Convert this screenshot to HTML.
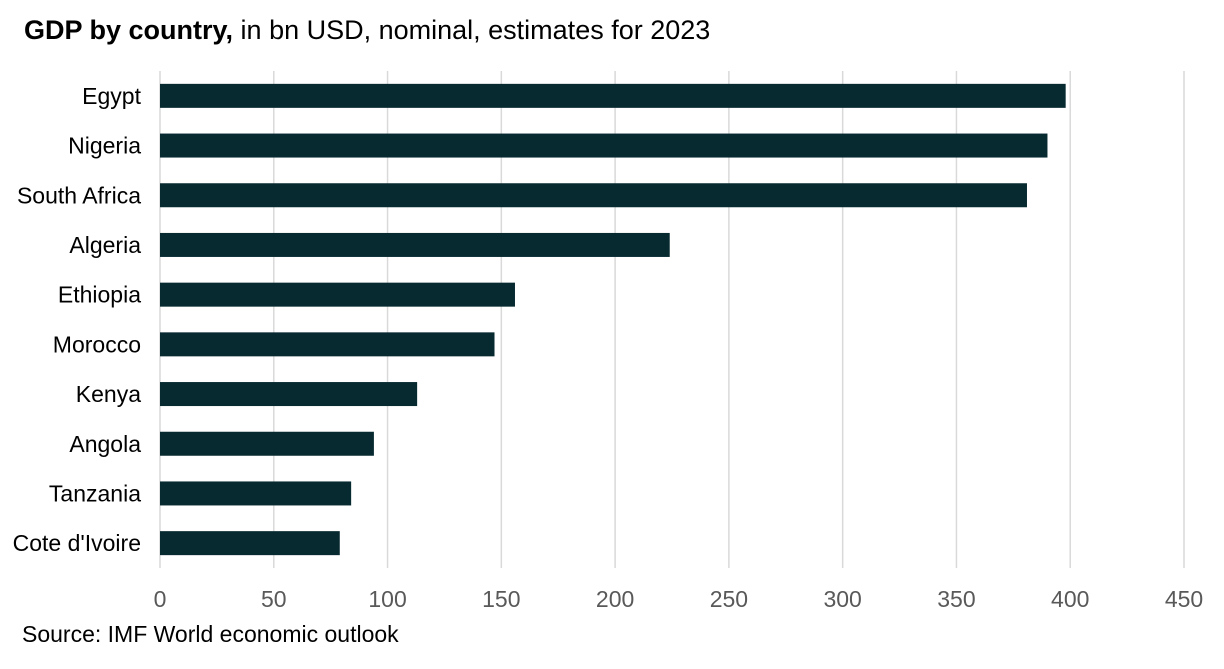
<!DOCTYPE html>
<html><head><meta charset="utf-8"><style>
body{margin:0;background:#fff;width:1224px;height:664px;overflow:hidden;font-family:"Liberation Sans",Arial,sans-serif}
</style></head><body>
<svg width="1224" height="664">
<text x="24" y="39" font-size="27" fill="#000"><tspan font-weight="bold">GDP by country,</tspan> in bn USD, nominal, estimates for 2023</text>
<g id="grid"></g><g id="bars"></g><g id="ylabels"></g><g id="xlabels"></g>
<text x="22" y="642" font-size="23" fill="#000">Source: IMF World economic outlook</text>
</svg>
<script>
const categories=["Egypt","Nigeria","South Africa","Algeria","Ethiopia","Morocco","Kenya","Angola","Tanzania","Cote d'Ivoire"];
const values=[398,390,381,224,156,147,113,94,84,79];
const ticks=[0,50,100,150,200,250,300,350,400,450];
const NS="http://www.w3.org/2000/svg";
const x0=160,x1=1184,xmax=450,plotTop=71,plotBottom=568;
const band=(plotBottom-plotTop)/categories.length, bh=24;
const X=v=>x0+v/xmax*(x1-x0);
const Y=i=>plotTop+band*i+band/2;
function mk(t,a,p){const e=document.createElementNS(NS,t);for(const k in a)e.setAttribute(k,a[k]);p.appendChild(e);return e;}
const g=document.getElementById('grid'),b=document.getElementById('bars'),yl=document.getElementById('ylabels'),xl=document.getElementById('xlabels');
ticks.forEach(t=>{
const l=mk('line',{x1:X(t),x2:X(t),y1:plotTop,y2:plotBottom,stroke:'#d9d9d9','stroke-width':1.5},g);


const tx=mk('text',{x:X(t),y:607,'font-size':23,fill:'#595959','text-anchor':'middle'},xl);
tx.textContent=t;


});
categories.forEach((c,i)=>{
const r=mk('rect',{x:x0,y:Y(i)-bh/2,width:X(values[i])-x0,height:bh,fill:'#072a30'},b);


const t=mk('text',{x:141,y:Y(i)+8,'font-size':23,fill:'#000','text-anchor':'end'},yl);
t.textContent=c;


});
</script>
</body></html>
